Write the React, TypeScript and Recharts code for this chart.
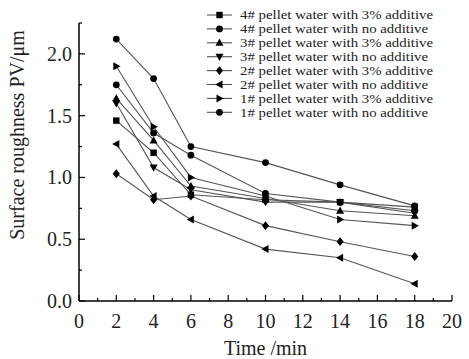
import { LineChart, Line, XAxis, YAxis } from "recharts";

const times = [2, 4, 6, 10, 14, 18];

const pellet4Additive = [1.46, 1.2, 0.86, 0.82, 0.8, 0.76];
const pellet4Plain = [1.75, 1.36, 1.18, 0.87, 0.8, 0.73];
const pellet3Additive = [1.64, 1.3, 0.93, 0.83, 0.73, 0.69];
const pellet3Plain = [1.6, 1.08, 0.9, 0.8, 0.8, 0.71];
const pellet2Additive = [1.03, 0.82, 0.85, 0.61, 0.48, 0.36];
const pellet2Plain = [1.27, 0.85, 0.66, 0.42, 0.35, 0.14];
const pellet1Additive = [1.9, 1.41, 1.0, 0.85, 0.66, 0.61];
const pellet1Plain = [2.12, 1.8, 1.25, 1.12, 0.94, 0.77];

const seriesNames = [
  "4# pellet water with 3% additive",
  "4# pellet water with no additive",
  "3# pellet water with 3% additive",
  "3# pellet water with no additive",
  "2# pellet water with 3% additive",
  "2# pellet water with no additive",
  "1# pellet water with 3% additive",
  "1# pellet water with no additive",
];
const seriesShapes = ["square", "circle", "up", "down", "diamond", "left", "right", "circle"];
const seriesValues = [
  pellet4Additive,
  pellet4Plain,
  pellet3Additive,
  pellet3Plain,
  pellet2Additive,
  pellet2Plain,
  pellet1Additive,
  pellet1Plain,
];

const xTicks = Array.from({ length: 21 }, (_, i) => i);
const yTicks = Array.from({ length: 10 }, (_, i) => i * 0.25);

const data = times.map((t, i) => {
  const row: Record<string, number> = { t };
  seriesValues.forEach((vals, s) => {
    row["s" + s] = vals[i];
  });
  return row;
});

const FONT = '"Liberation Serif", "Times New Roman", serif';
const LINE = "#555";

const Marker = ({ shape, cx, cy }: { shape: string; cx: number; cy: number }) => {
  switch (shape) {
    case "square":
      return <rect x={cx - 3.2} y={cy - 3.2} width={6.4} height={6.4} fill="#000" />;
    case "circle":
      return <circle cx={cx} cy={cy} r={3.4} fill="#000" />;
    case "up":
      return <polygon points={`${cx},${cy - 4.2} ${cx - 4},${cy + 3} ${cx + 4},${cy + 3}`} fill="#000" />;
    case "down":
      return <polygon points={`${cx},${cy + 4.2} ${cx - 4},${cy - 3} ${cx + 4},${cy - 3}`} fill="#000" />;
    case "diamond":
      return <polygon points={`${cx},${cy - 4.4} ${cx + 3.6},${cy} ${cx},${cy + 4.4} ${cx - 3.6},${cy}`} fill="#000" />;
    case "left":
      return <polygon points={`${cx - 4.2},${cy} ${cx + 3},${cy - 4} ${cx + 3},${cy + 4}`} fill="#000" />;
    default:
      return <polygon points={`${cx + 4.2},${cy} ${cx - 3},${cy - 4} ${cx - 3},${cy + 4}`} fill="#000" />;
  }
};

const makeDot = (shape: string) => (props: any) => (
  <Marker key={`${shape}-${props.index}`} shape={shape} cx={props.cx} cy={props.cy} />
);

const XTick = (props: any) => {
  const { x, y, payload } = props;
  const major = payload.value % 2 === 0;
  return (
    <g>
      <line x1={x} x2={x} y1={y} y2={y - (major ? 6 : 3)} stroke="#000" strokeWidth={1.2} />
      {major && (
        <text x={x} y={y + 27} textAnchor="middle" fontSize={20} fontFamily={FONT} fill="#222">
          {payload.value}
        </text>
      )}
    </g>
  );
};

const YTick = (props: any) => {
  const { x, y, payload } = props;
  const v = payload.value;
  const major = Math.abs(v * 2 - Math.round(v * 2)) < 1e-6;
  return (
    <g>
      <line x1={x} x2={x + (major ? 6 : 3)} y1={y} y2={y} stroke="#000" strokeWidth={1.2} />
      {major && (
        <text x={x - 7} y={y + 7} textAnchor="end" fontSize={20} fontFamily={FONT} fill="#222">
          {v.toFixed(1)}
        </text>
      )}
    </g>
  );
};

const App = () => {
  return (
    <div style={{ position: "absolute", left: 0, top: 0, width: 469, height: 359, background: "#fff" }}>
      <LineChart width={469} height={359} data={data} margin={{ top: 23, right: 17, left: 0, bottom: 0 }}>
        <XAxis
          type="number"
          dataKey="t"
          domain={[0, 20]}
          ticks={xTicks}
          interval={0}
          height={58}
          tickSize={0}
          tickMargin={0}
          tickLine={false}
          tick={<XTick />}
          axisLine={{ stroke: "#000", strokeWidth: 1.5 }}
          label={{
            content: () => (
              <text x={265.5} y={355} textAnchor="middle" fontSize={20} fontFamily={FONT} fill="#222">
                Time /min
              </text>
            ),
          }}
        />
        <YAxis
          type="number"
          domain={[0, 2.25]}
          ticks={yTicks}
          interval={0}
          width={79}
          tickSize={0}
          tickMargin={0}
          tickLine={false}
          tick={<YTick />}
          axisLine={{ stroke: "#000", strokeWidth: 1.5 }}
          label={{
            content: () => (
              <text
                x={24}
                y={135}
                transform="rotate(-90 24 135)"
                textAnchor="middle"
                fontSize={20}
                fontFamily={FONT}
                fill="#222"
              >
                Surface roughness PV/μm
              </text>
            ),
          }}
        />
        {seriesNames.map((name, s) => (
          <Line
            key={name}
            name={name}
            dataKey={"s" + s}
            stroke={LINE}
            strokeWidth={1.1}
            dot={makeDot(seriesShapes[s])}
            activeDot={false}
            isAnimationActive={false}
          />
        ))}
      </LineChart>
      <svg width={469} height={130} style={{ position: "absolute", left: 0, top: 0, pointerEvents: "none" }}>
        {seriesNames.map((name, s) => {
          const y = 15 + s * 13.9;
          return (
            <g key={name}>
              <line x1={207} x2={232} y1={y} y2={y} stroke={LINE} strokeWidth={1.1} />
              <Marker shape={seriesShapes[s]} cx={219.5} cy={y} />
              <text
                x={240}
                y={y + 4.2}
                fontSize={12}
                fontFamily={FONT}
                fill="#222"
                textLength={name.includes("3%") ? 193 : 188}
                lengthAdjust="spacingAndGlyphs"
              >
                {name}
              </text>
            </g>
          );
        })}
      </svg>
    </div>
  );
};

export default App;
